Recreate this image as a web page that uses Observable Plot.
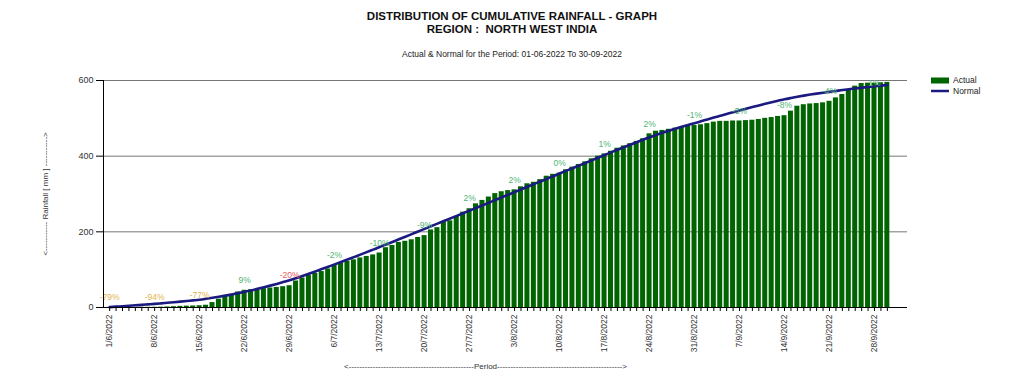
<!DOCTYPE html>
<html><head><meta charset="utf-8">
<script src="https://cdn.jsdelivr.net/npm/d3@7"></script>
<script src="https://cdn.jsdelivr.net/npm/@observablehq/plot@0.6"></script>
<style>
body{margin:0;background:#fff;font-family:"Liberation Sans",Arial,sans-serif;}
#wrap{position:relative;width:1024px;height:385px;overflow:hidden;}
.t{position:absolute;left:0;width:1024px;text-align:center;color:#111;}
#t1{top:10px;font-size:11.5px;font-weight:bold;line-height:13px;}
#t2{top:49px;font-size:8.5px;line-height:11px;color:#222;}
#chart{position:absolute;left:0;top:62px;}
</style></head><body>
<div id="wrap">
<div class="t" id="t1">DISTRIBUTION OF CUMULATIVE RAINFALL - GRAPH<br>REGION :&nbsp; NORTH WEST INDIA</div>
<div class="t" id="t2">Actual &amp; Normal for the Period: 01-06-2022 To 30-09-2022</div>
<div id="chart"></div>
</div>
<script>
// Cumulative rainfall (mm), one value per day 1 Jun – 30 Sep 2022
const actual = [
  0.2, 0.3, 0.3, 0.4, 0.4, 0.5, 0.5, 0.6, 0.9, 1.4,
  2.2, 3.0, 3.6, 4.1, 4.7, 6, 13, 22, 29, 35,
  41, 45.5, 47, 48.5, 50, 51.5, 53, 55, 57.6, 70,
  78, 85, 90, 95, 102, 112, 117, 122, 126, 131,
  135, 139, 144, 158, 164, 172, 175, 179, 185, 190,
  205, 211, 226, 229, 241, 252, 261, 274, 283, 292,
  301, 306, 309, 311, 319, 327, 331, 338, 347, 352,
  355, 364, 371, 378, 385, 393, 400, 406, 413, 421,
  427, 433, 439, 446, 459, 466, 468, 471, 474, 476,
  479, 481, 483, 486, 490, 492, 492, 493, 493, 494,
  495, 497, 500, 502, 505, 507, 519, 532, 536, 538,
  539, 541, 545, 554, 563, 576, 585, 592, 593, 593,
  594, 595
];
const normal = [
  1.0, 2.2, 3.4, 4.6, 5.8, 7.0, 8.2, 9.5, 10.9, 12.4,
  13.9, 15.5, 17.1, 18.8, 20.6, 23.0, 25.6, 28.4, 31.4, 34.6,
  38.0, 41.6, 45.2, 49.2, 53.4, 57.8, 62.4, 67.2, 72.0, 77.5,
  83.3, 89.3, 95.4, 101.6, 107.8, 114.0, 120.3, 126.7, 133.2, 139.7,
  146.3, 153.0, 159.7, 166.5, 173.3, 180.2, 187.1, 194.0, 200.9, 207.8,
  214.7, 221.6, 228.5, 235.4, 242.3, 249.2, 256.1, 263.0, 270.0, 277.0,
  284.0, 291.0, 298.0, 305.0, 312.0, 319.0, 326.0, 333.0, 340.0, 347.0,
  354.0, 361.0, 368.0, 375.0, 382.0, 389.0, 396.0, 403.0, 410.0, 416.8,
  423.6, 430.3, 436.9, 443.5, 450.0, 456.0, 461.8, 467.4, 472.7, 477.8,
  482.6, 487.2, 492.1, 497.0, 501.9, 506.7, 511.5, 516.3, 521.0, 525.5,
  529.9, 534.2, 538.4, 542.5, 546.5, 550.4, 553.8, 557.0, 560.0, 562.8,
  565.4, 567.8, 570.0, 572.4, 574.7, 576.9, 579.0, 581.0, 582.9, 584.7,
  586.4, 588.0
];
const tickLabels = ["1/6/2022","8/6/2022","15/6/2022","22/6/2022","29/6/2022","6/7/2022",
  "13/7/2022","20/7/2022","27/7/2022","3/8/2022","10/8/2022","17/8/2022","24/8/2022",
  "31/8/2022","7/9/2022","14/9/2022","21/9/2022","28/9/2022"];
const pctLabels = ["-79%","-94%","-77%","9%","-20%","-2%","-10%","-9%","2%","2%","0%",
  "1%","2%","-1%","-5%","-8%","-4%","1%"];
const yTicks = [0, 200, 400, 600];
const yGrid = [200, 400, 600];
const legendItems = [
  {label: "Actual", color: "#006400", kind: "bar"},
  {label: "Normal", color: "#1a1a80", kind: "line"}
];
const yTitle = "<----------- Rainfall [ mm ] ----------->";
const xTitle = "<" + "-".repeat(47) + "Period" + "-".repeat(47) + ">";

const fmt = d3.timeFormat("%-d/%-m/%Y");
const categories = d3.timeDay.range(new Date(2022, 5, 1), new Date(2022, 9, 1)).map(fmt);
const rows = categories.map((c, i) => ({day: c, actual: actual[i], normal: normal[i]}));
const labelRows = tickLabels.map((t, k) => {
  const i = categories.indexOf(t);
  return {day: t, pct: pctLabels[k], y: Math.min(actual[i], 566)};
});
function pctColor(s) {
  const p = parseInt(s);
  if (p <= -60) return "#e2b44c";
  if (p <= -20) return "#e35d5d";
  if (p < 20) return "#4fb577";
  return "#3b7dd8";
}

const chart = Plot.plot({
  width: 1024, height: 323,
  marginTop: 18, marginBottom: 78, marginLeft: 103, marginRight: 117,
  style: {fontFamily: '"Liberation Sans", Arial, sans-serif', fontSize: "9px", color: "#333", background: "#fff"},
  x: {type: "band", domain: categories, insetLeft: 3, insetRight: 17, paddingInner: 0.22, paddingOuter: 0.1, label: null},
  y: {domain: [0, 600], label: null},
  color: {type: "identity"},
  marks: [
    Plot.ruleY(yGrid, {stroke: "#777", strokeWidth: 1}),
    Plot.barY(rows, {x: "day", y: "actual", fill: "#006400"}),
    Plot.line(rows, {x: "day", y: "normal", stroke: "#1a1a80", strokeWidth: 2.6, curve: "monotone-x"}),
    Plot.text(labelRows, {x: "day", y: "y", text: "pct", fill: d => pctColor(d.pct), dy: -10, fontSize: 8.5}),
    Plot.ruleY([0], {stroke: "#000"}),
    Plot.frame({anchor: "left", stroke: "#000"}),
    Plot.axisY({ticks: yTicks, tickSize: 7, tickPadding: 3, fontSize: 9, label: null, stroke: "#000"}),
    Plot.axisX({ticks: categories, tickSize: 4, tickPadding: 3, tickRotate: -90, fontSize: 8.5, label: null,
      tickFormat: d => tickLabels.includes(d) ? d : "", stroke: "#000"}),
    Plot.text([yTitle], {frameAnchor: "left", textAnchor: "middle", rotate: -90, dx: -58, fontSize: 8, fill: "#333"}),
    Plot.text([xTitle], {frameAnchor: "bottom", textAnchor: "middle", dy: 61, dx: -20, fontSize: 8, fill: "#333"})
  ]
});

const svg = d3.select(chart);
legendItems.forEach((it, k) => {
  const cy = 18.5 + k * 10.5;
  if (it.kind === "bar") {
    svg.append("rect").attr("x", 931).attr("y", cy - 3).attr("width", 18).attr("height", 6).attr("fill", it.color);
  } else {
    svg.append("line").attr("x1", 931).attr("x2", 949).attr("y1", cy).attr("y2", cy)
      .attr("stroke", it.color).attr("stroke-width", 2.5);
  }
  svg.append("text").attr("x", 953).attr("y", cy).attr("dy", "0.35em").attr("text-anchor", "start")
    .attr("font-size", 8.5).attr("fill", "#222").text(it.label);
});
document.getElementById("chart").appendChild(chart);
</script>
</body></html>
